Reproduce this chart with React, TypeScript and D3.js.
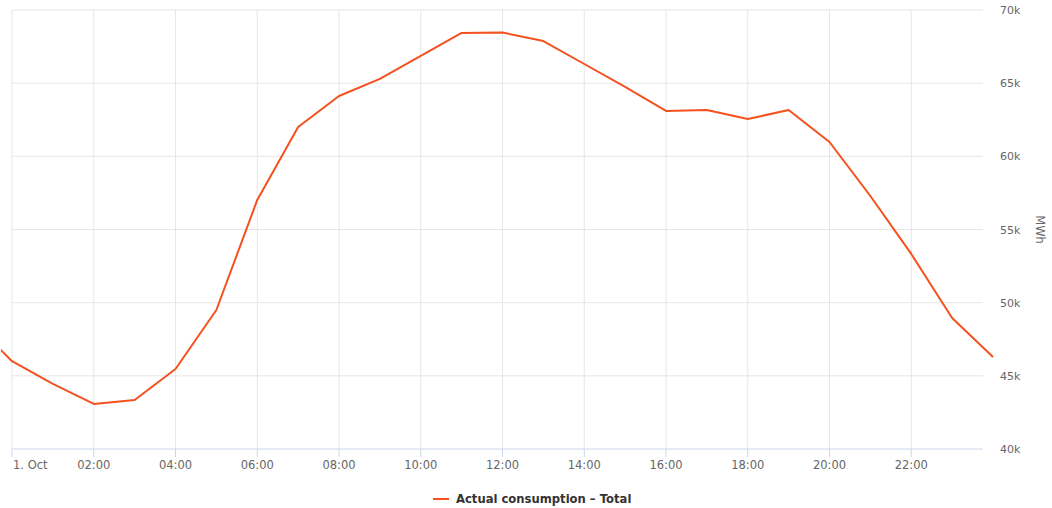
import React from "react";
import * as d3 from "d3";

const hours: number[] = [-1, 0, 1, 2, 3, 4, 5, 6, 7, 8, 9, 10, 11, 12, 13, 14, 15, 16, 17, 18, 19, 20, 21, 22, 23, 24];
const consumption: number[] = [
  48800, 46000, 44450, 43080, 43350, 45470, 49500, 57020, 62000, 64120, 65290,
  66860, 68430, 68460, 67880, 66310, 64740, 63100, 63170, 62550, 63170, 60980,
  57290, 53330, 48950, 46290,
];
const xTicks: number[] = [0, 2, 4, 6, 8, 10, 12, 14, 16, 18, 20, 22];
const xTickLabels: string[] = ["1. Oct", "02:00", "04:00", "06:00", "08:00", "10:00", "12:00", "14:00", "16:00", "18:00", "20:00", "22:00"];
const yTicks: number[] = [40000, 45000, 50000, 55000, 60000, 65000, 70000];
const seriesName = "Actual consumption – Total";
const yTitle = "MWh";

const W = 1052;
const H = 508;
const color = "#f4511e";
const font = "'DejaVu Sans', Verdana, sans-serif";

export default function App() {
  const x = d3.scaleLinear().domain([0, 24]).range([12, 993]);
  const y = d3.scaleLinear().domain([40000, 70000]).range([449, 10]);
  const gridRight = 983;
  const line = d3
    .line<number>()
    .x((_, i) => x(hours[i]))
    .y((d) => y(d));
  return (
    <svg width={W} height={H} style={{ position: "absolute", left: 0, top: 0, background: "#fff" }}>
      <defs>
        <clipPath id="plotclip">
          <rect x={1} y={0} width={996} height={455} />
        </clipPath>
      </defs>
      {yTicks.slice(1).map((t) => (
        <line key={"gy" + t} x1={12} x2={gridRight} y1={y(t)} y2={y(t)} stroke="#e6e6e6" strokeWidth={1} />
      ))}
      {xTicks.map((t) => (
        <line key={"gx" + t} x1={x(t)} x2={x(t)} y1={10} y2={449} stroke="#e6e6e6" strokeWidth={1} />
      ))}
      <line x1={12} x2={gridRight} y1={449} y2={449} stroke="#ccd6eb" strokeWidth={1} />
      {xTicks.map((t) => (
        <line key={"tx" + t} x1={x(t)} x2={x(t)} y1={449} y2={457} stroke="#ccd6eb" strokeWidth={1} />
      ))}
      {xTicks.map((t, i) => (
        <text
          key={"lx" + t}
          x={i === 0 ? x(t) + 1 : x(t)}
          y={469}
          textAnchor={i === 0 ? "start" : "middle"}
          fontFamily={font}
          fontSize={11.5}
          fill="#666"
        >
          {xTickLabels[i]}
        </text>
      ))}
      {yTicks.map((t) => (
        <text key={"ly" + t} x={1000} y={y(t) + 4} fontFamily={font} fontSize={11} fill="#666">
          {t / 1000 + "k"}
        </text>
      ))}
      <text
        transform={`translate(1036, ${y(55000)}) rotate(90)`}
        textAnchor="middle"
        fontFamily={font}
        fontSize={11.5}
        fill="#666"
      >
        {yTitle}
      </text>
      <path d={line(consumption) || ""} fill="none" stroke={color} strokeWidth={2} strokeLinejoin="round" clipPath="url(#plotclip)" />
      <line x1={433} x2={449} y1={499} y2={499} stroke={color} strokeWidth={2} />
      <text x={456} y={503} fontFamily={font} fontSize={11.6} fontWeight="bold" fill="#333">
        {seriesName}
      </text>
    </svg>
  );
}
